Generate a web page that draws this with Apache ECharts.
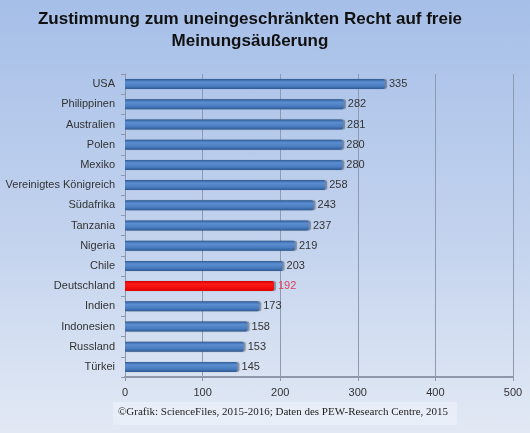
<!DOCTYPE html>
<html>
<head>
  <meta charset="utf-8" />
  <script src="https://cdn.jsdelivr.net/npm/echarts@6/dist/echarts.min.js"></script>
  <style>
    html, body { margin: 0; padding: 0; }
    #chart {
      width: 530px;
      height: 433px;
      background: linear-gradient(to bottom, #a6bfe8 0%, #c3d3ee 55%, #e2e9f4 100%);
    }
  </style>
</head>
<body>
  <div id="chart"></div>
  <script>
    // Länder und Werte (von oben nach unten)
    const countries = ["USA", "Philippinen", "Australien", "Polen", "Mexiko", "Vereinigtes Königreich", "Südafrika",
      "Tanzania", "Nigeria", "Chile", "Deutschland", "Indien", "Indonesien", "Russland", "Türkei"]
    const values = [335, 282, 281, 280, 280, 258, 243, 237, 219, 203, 192, 173, 158, 153, 145]
    const highlight = "Deutschland"
    const xTicks = [0, 100, 200, 300, 400, 500]

    const blueBar = new echarts.graphic.LinearGradient(0, 0, 0, 1, [
      { offset: 0, color: "#2f5d99" },
      { offset: 0.3, color: "#5b8dd0" },
      { offset: 0.7, color: "#4a7cc0" },
      { offset: 1, color: "#2e5a94" }
    ])
    const redBar = new echarts.graphic.LinearGradient(0, 0, 0, 1, [
      { offset: 0, color: "#d00000" },
      { offset: 0.3, color: "#ff1a1a" },
      { offset: 1, color: "#e00000" }
    ])

    const chart = echarts.init(document.getElementById("chart"))
    chart.setOption({
      backgroundColor: "transparent",
      title: {
        text: "Zustimmung zum uneingeschränkten Recht auf freie\nMeinungsäußerung",
        left: 245,
        textAlign: "center",
        top: 3,
        textStyle: { fontFamily: "Liberation Sans, Arial", fontSize: 17, fontWeight: "bold", color: "#111", lineHeight: 22 }
      },
      graphic: [
        {
          type: "rect",
          shape: { x: 113, y: 402, width: 344, height: 23 },
          style: { fill: "rgba(235,240,248,0.75)" }
        },
        {
          type: "text",
          x: 118,
          y: 407,
          style: {
            text: "©Grafik: ScienceFiles, 2015-2016; Daten des PEW-Research Centre, 2015",
            font: "11px 'Liberation Serif', serif",
            fill: "#222"
          }
        }
      ],
      grid: { left: 125, right: 17, top: 74, bottom: 56 },
      xAxis: {
        type: "value",
        min: xTicks[0],
        max: xTicks[xTicks.length - 1],
        interval: 100,
        axisLine: { show: true, lineStyle: { color: "#8d99aa", width: 2 } },
        axisTick: { show: true, length: 4, lineStyle: { color: "#8d99aa" } },
        axisLabel: { color: "#333", fontSize: 11, fontFamily: "Liberation Sans, Arial", margin: 10 },
        splitLine: { show: true, lineStyle: { color: "#8e9ab0", width: 1 } }
      },
      yAxis: {
        type: "category",
        inverse: true,
        data: countries,
        axisLine: { show: true, lineStyle: { color: "#8d99aa", width: 1 } },
        axisTick: { show: true, length: 4, lineStyle: { color: "#8d99aa" } },
        axisLabel: { color: "#333", fontSize: 11, fontFamily: "Liberation Sans, Arial", margin: 10 }
      },
      series: [
        {
          type: "bar",
          barWidth: 10,
          data: values.map((v, i) => ({
            value: v,
            itemStyle: {
              color: countries[i] === highlight ? redBar : blueBar,
              borderRadius: [0, 2, 2, 0],
              shadowColor: "rgba(0,0,0,0.35)",
              shadowOffsetX: 2,
              shadowBlur: 1
            },
            label: { color: countries[i] === highlight ? "#e0405a" : "#333" }
          })),
          label: {
            show: true,
            position: "right",
            distance: 4,
            fontSize: 11,
            fontFamily: "Liberation Sans, Arial"
          }
        }
      ]
    })
  </script>
</body>
</html>
